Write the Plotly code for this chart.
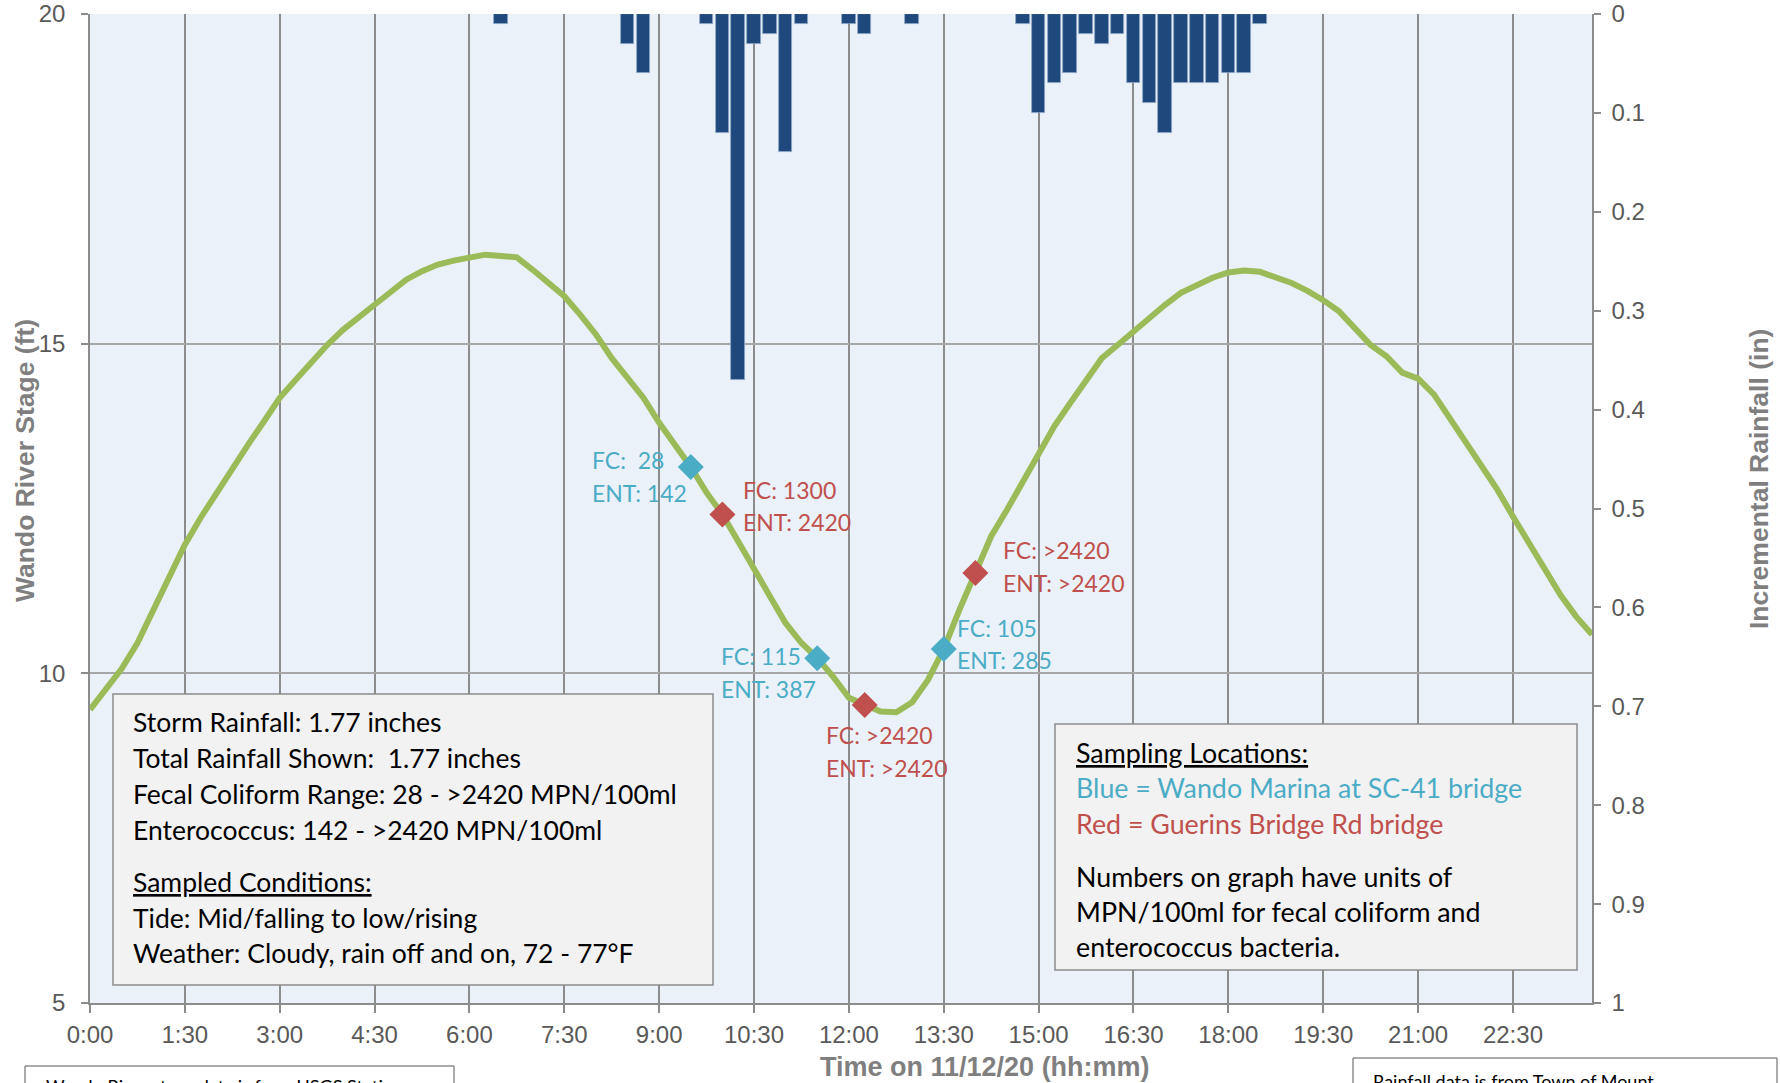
import plotly.graph_objects as go

DAY = "2020-11-12"

# ---------------- data ----------------
stage_times = ["0:00", "0:15", "0:30", "0:45", "1:00", "1:15", "1:30", "1:45", "2:00", "2:15", "2:30", "2:45",
               "3:00", "3:15", "3:30", "3:45", "4:00", "4:15", "4:30", "4:45", "5:00", "5:15", "5:30", "5:45",
               "6:00", "6:15", "6:30", "6:45", "7:00", "7:15", "7:30", "7:45", "8:00", "8:15", "8:30", "8:45",
               "9:00", "9:15", "9:30", "9:45", "10:00", "10:15", "10:30", "10:45", "11:00", "11:15", "11:30", "11:45",
               "12:00", "12:15", "12:30", "12:45", "13:00", "13:15", "13:30", "13:45", "14:00", "14:15", "14:30", "14:45",
               "15:00", "15:15", "15:30", "15:45", "16:00", "16:15", "16:30", "16:45", "17:00", "17:15", "17:30", "17:45",
               "18:00", "18:15", "18:30", "18:45", "19:00", "19:15", "19:30", "19:45", "20:00", "20:15", "20:30", "20:45",
               "21:00", "21:15", "21:30", "21:45", "22:00", "22:15", "22:30", "22:45", "23:00", "23:15", "23:30", "23:45"]
stage_ft = [9.45, 9.75, 10.07, 10.46, 10.97, 11.47, 11.95, 12.36, 12.74, 13.11, 13.47, 13.82,
            14.18, 14.45, 14.73, 14.98, 15.21, 15.41, 15.59, 15.78, 15.97, 16.10, 16.20, 16.26,
            16.31, 16.35, 16.33, 16.31, 16.12, 15.92, 15.72, 15.44, 15.14, 14.78, 14.48, 14.18,
            13.80, 13.47, 13.13, 12.74, 12.41, 12.00, 11.57, 11.17, 10.76, 10.46, 10.23, 9.95,
            9.63, 9.52, 9.42, 9.41, 9.56, 9.90, 10.37, 10.97, 11.52, 12.08, 12.48, 12.89,
            13.34, 13.75, 14.10, 14.45, 14.78, 14.98, 15.19, 15.39, 15.59, 15.77, 15.89, 16.00,
            16.08, 16.11, 16.09, 16.00, 15.92, 15.80, 15.66, 15.49, 15.24, 14.98, 14.81, 14.56,
            14.47, 14.23, 13.87, 13.52, 13.14, 12.79, 12.38, 11.98, 11.57, 11.19, 10.86, 10.59]

rain_times = ["6:30", "8:30", "8:45", "9:45", "10:00", "10:15", "10:30", "10:45", "11:00", "11:15",
              "12:00", "12:15", "13:00", "14:45", "15:00", "15:15", "15:30", "15:45", "16:00", "16:15",
              "16:30", "16:45", "17:00", "17:15", "17:30", "17:45", "18:00", "18:15", "18:30"]
rain_in = [0.01, 0.03, 0.06, 0.01, 0.12, 0.37, 0.03, 0.02, 0.14, 0.01,
           0.01, 0.02, 0.01, 0.01, 0.10, 0.07, 0.06, 0.02, 0.03, 0.02,
           0.07, 0.09, 0.12, 0.07, 0.07, 0.07, 0.06, 0.06, 0.01]

blue_times = ["9:30", "11:30", "13:30"]
blue_stage = [13.13, 10.23, 10.37]
blue_fc = ["\u00a028", "115", "105"]
blue_ent = ["142", "387", "285"]

red_times = ["10:00", "12:15", "14:00"]
red_stage = [12.41, 9.52, 11.52]
red_fc = ["1300", ">2420", ">2420"]
red_ent = ["2420", ">2420", ">2420"]

tick_times = ["0:00", "1:30", "3:00", "4:30", "6:00", "7:30", "9:00", "10:30", "12:00",
              "13:30", "15:00", "16:30", "18:00", "19:30", "21:00", "22:30"]

left_box_lines = ["Storm Rainfall: 1.77 inches",
                  "Total Rainfall Shown:  1.77 inches",
                  "Fecal Coliform Range: 28 - >2420 MPN/100ml",
                  "Enterococcus: 142 - >2420 MPN/100ml",
                  "<u>Sampled Conditions:</u>",
                  "Tide: Mid/falling to low/rising",
                  "Weather: Cloudy, rain off and on, 72 - 77°F"]
right_box_lines = ["<u>Sampling Locations:</u>",
                   "Blue = Wando Marina at SC-41 bridge",
                   "Red = Guerins Bridge Rd bridge",
                   "Numbers on graph have units of",
                   "MPN/100ml for fecal coliform and",
                   "enterococcus bacteria."]

# ---------------- styles / layout constants ----------------
BLUE = "#4BACC6"
RED = "#C0504D"
GREEN = "#9BBB59"
BAR = "#1F497D"
GRAY_TXT = "#595959"
TITLE_GRAY = "#7F7F7F"
TEXT_FONT = "Lato, Noto Sans, sans-serif"
AX_FONT = "Liberation Sans, Arial, sans-serif"

W, H = 1780, 1083
L, R, T, B = 90, 188, 14, 80
X0, X1 = L, W - R
Y0, Y1 = T, H - B


def ts(t):
    h, m = t.split(":")
    return f"{DAY} {int(h):02d}:{m}:00"


def px(X):
    return (X - X0) / (X1 - X0)


def py(Y):
    return (Y1 - Y) / (Y1 - Y0)


fig = go.Figure()

fig.add_trace(go.Bar(
    x=[ts(t) for t in rain_times], y=rain_in, yaxis="y2",
    width=770000,
    marker=dict(color=BAR, line=dict(color="#8FA8C8", width=0.8)),
    showlegend=False, hoverinfo="skip"))

fig.add_trace(go.Scatter(
    x=[ts(t) for t in stage_times], y=stage_ft, mode="lines",
    line=dict(color=GREEN, width=6), showlegend=False))

fig.add_trace(go.Scatter(
    x=[ts(t) for t in blue_times], y=blue_stage, mode="markers",
    marker=dict(symbol="diamond", size=20, color=BLUE), showlegend=False))

fig.add_trace(go.Scatter(
    x=[ts(t) for t in red_times], y=red_stage, mode="markers",
    marker=dict(symbol="diamond", size=20, color=RED), showlegend=False))

annotations = []
shapes = []

# labels near the sample markers: (dx, dy_fc, dy_ent) in pixels
blue_offsets = [(-101, -7, 26), (-98, -2, 31), (11, -21, 11)]
red_offsets = [(19, -24, 8), (-41, 30, 63), (26, -23, 10)]

for times, stages, fcs, ents, offs, col in [
        (blue_times, blue_stage, blue_fc, blue_ent, blue_offsets, BLUE),
        (red_times, red_stage, red_fc, red_ent, red_offsets, RED)]:
    for t, s, fc, ent, (dx, dfc, dent) in zip(times, stages, fcs, ents, offs):
        for txt, dy in [(f"FC: {fc}", dfc), (f"ENT: {ent}", dent)]:
            annotations.append(dict(
                x=ts(t), y=s, xref="x", yref="y", text=txt, showarrow=False,
                xanchor="left", yanchor="middle", xshift=dx, yshift=-dy,
                font=dict(family=TEXT_FONT, size=23, color=col)))

# left info box
shapes.append(dict(type="rect", xref="paper", yref="paper",
                   x0=px(113), x1=px(713), y0=py(985), y1=py(694),
                   fillcolor="#F2F2F2", line=dict(color="#8C8C8C", width=1.5), layer="above"))
for txt, Y in zip(left_box_lines, [722, 758, 794, 830, 882, 918, 953]):
    annotations.append(dict(x=px(131), y=py(Y), xref="paper", yref="paper", text=txt,
                            showarrow=False, xanchor="left", yanchor="middle",
                            font=dict(family=TEXT_FONT, size=26.5, color="#000000")))

# right info box
shapes.append(dict(type="rect", xref="paper", yref="paper",
                   x0=px(1055), x1=px(1577), y0=py(970), y1=py(724),
                   fillcolor="#F2F2F2", line=dict(color="#8C8C8C", width=1.5), layer="above"))
right_colors = ["#000000", BLUE, RED, "#000000", "#000000", "#000000"]
for txt, Y, c in zip(right_box_lines, [753, 788, 824, 877, 912, 947], right_colors):
    annotations.append(dict(x=px(1074), y=py(Y), xref="paper", yref="paper", text=txt,
                            showarrow=False, xanchor="left", yanchor="middle",
                            font=dict(family=TEXT_FONT, size=26.8, color=c)))

# cut-off note boxes at the bottom edge
shapes.append(dict(type="rect", xref="paper", yref="paper",
                   x0=px(25), x1=px(454), y0=py(1110), y1=py(1066),
                   fillcolor="#FFFFFF", line=dict(color="#595959", width=1)))
annotations.append(dict(x=px(44), y=py(1073), xref="paper", yref="paper",
                        text="Wando River stage data is from USGS Station", showarrow=False,
                        xanchor="left", yanchor="top",
                        font=dict(family=TEXT_FONT, size=18, color="#000000")))
shapes.append(dict(type="rect", xref="paper", yref="paper",
                   x0=px(1353), x1=px(1777), y0=py(1110), y1=py(1058),
                   fillcolor="#FFFFFF", line=dict(color="#595959", width=1)))
annotations.append(dict(x=px(1371), y=py(1068), xref="paper", yref="paper",
                        text="Rainfall data is from Town of Mount", showarrow=False,
                        xanchor="left", yanchor="top",
                        font=dict(family=TEXT_FONT, size=18, color="#000000")))

# axis titles
annotations.append(dict(x=px(25), y=py(461), xref="paper", yref="paper",
                        text="<b>Wando River Stage (ft)</b>", textangle=-90, showarrow=False,
                        xanchor="center", yanchor="middle",
                        font=dict(family=AX_FONT, size=26.5, color=TITLE_GRAY)))
annotations.append(dict(x=px(1759), y=py(479), xref="paper", yref="paper",
                        text="<b>Incremental Rainfall (in)</b>", textangle=-90, showarrow=False,
                        xanchor="center", yanchor="middle",
                        font=dict(family=AX_FONT, size=26.5, color=TITLE_GRAY)))
annotations.append(dict(x=px(985), y=py(1067), xref="paper", yref="paper",
                        text="<b>Time on 11/12/20 (hh:mm)</b>", showarrow=False,
                        xanchor="center", yanchor="middle",
                        font=dict(family=AX_FONT, size=27, color=TITLE_GRAY)))

fig.update_layout(
    width=W, height=H,
    margin=dict(l=L, r=R, t=T, b=B, pad=0, autoexpand=False),
    paper_bgcolor="#FFFFFF",
    plot_bgcolor="#EBF1F9",
    showlegend=False,
    bargap=0,
    xaxis=dict(
        type="date", automargin=False,
        range=[ts("0:00"), ts("23:45")],
        tickmode="array",
        tickvals=[ts(t) for t in tick_times],
        ticktext=tick_times,
        showgrid=True, gridcolor="#8C8C8C", gridwidth=1.5,
        ticks="outside", ticklen=8, tickcolor="#8C8C8C", tickwidth=1.5,
        showline=True, linecolor="#8C8C8C", linewidth=2,
        zeroline=False,
        ticklabelstandoff=1,
        tickfont=dict(family=AX_FONT, size=24, color=GRAY_TXT),
    ),
    yaxis=dict(
        automargin=False,
        range=[5, 20], dtick=5, tick0=5,
        showgrid=True, gridcolor="#A6A6A6", gridwidth=1.5,
        ticks="outside", ticklen=7, tickcolor="#8C8C8C", tickwidth=1.5,
        showline=True, linecolor="#8C8C8C", linewidth=1.5,
        zeroline=False,
        ticklabelstandoff=11,
        tickfont=dict(family=AX_FONT, size=24, color=GRAY_TXT),
    ),
    yaxis2=dict(
        automargin=False,
        overlaying="y", side="right",
        range=[1, 0], dtick=0.1, tick0=0,
        showgrid=False, zeroline=False,
        ticks="outside", ticklen=7, tickcolor="#8C8C8C", tickwidth=1.5,
        showline=True, linecolor="#8C8C8C", linewidth=1.5,
        ticklabelstandoff=6,
        tickfont=dict(family=AX_FONT, size=24, color=GRAY_TXT),
    ),
    annotations=annotations,
    shapes=shapes,
)

fig.write_html("out.html",
               config={"displayModeBar": False},
               post_script="document.body.style.margin='0';document.body.style.overflow='hidden';")
